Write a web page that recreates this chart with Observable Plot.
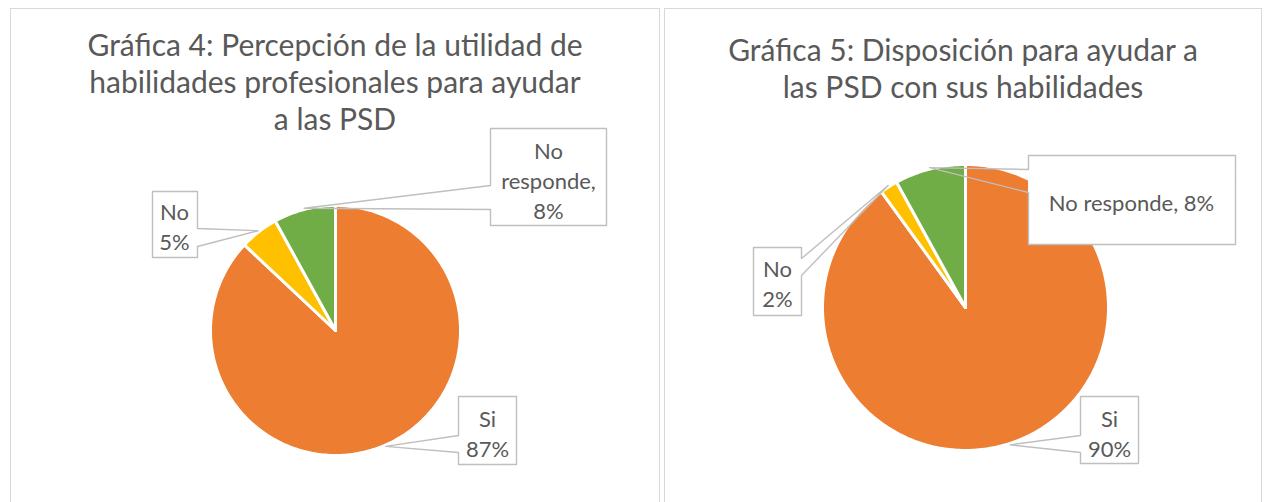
<!DOCTYPE html>
<html>
<head>
<meta charset="utf-8">
<script src="https://cdn.jsdelivr.net/npm/d3@7"></script>
<script src="https://cdn.jsdelivr.net/npm/@observablehq/plot@0.6"></script>
<style>
  body { margin: 0; background: #fff; }
  #root { position: relative; width: 1267px; height: 502px; overflow: hidden; background: #fff; }
  .panel { position: absolute; box-sizing: border-box; border: 1px solid #D9D9D9; background: #fff; }
  .title { position: absolute; left: 0; right: 0; text-align: center; color: #595959;
           font-family: Lato, "Open Sans", sans-serif; font-size: 30px; line-height: 37px; z-index: 2; }
  .panel svg { position: absolute; left: 0; top: 0; overflow: visible; }
</style>
</head>
<body>
<div id="root">
  <div class="panel" id="p1" style="left:10px; top:8px; width:650px; height:520px;"></div>
  <div class="panel" id="p2" style="left:664px; top:8px; width:598px; height:520px;"></div>
</div>
<script>
// ---------- data ----------
const categories = ["Si", "No", "No responde"];
const colors = ["#ED7D31", "#FFC000", "#70AD47"];
const values4 = [87, 5, 8];
const values5 = [90, 2, 8];
const title4 = ["Gráfica 4: Percepción de la utilidad de", "habilidades profesionales para ayudar", "a las PSD"];
const title5 = ["Gráfica 5: Disposición para ayudar a", "las PSD con sus habilidades"];
const catLines4 = [["Si"], ["No"], ["No", "responde,"]];
const catLines5 = [["Si"], ["No"], ["No responde,"]];

// ---------- layout (page pixels) ----------
const layout4 = {
  panel: "p1", origin: [11, 9], width: 648, height: 520, cx: 335, cy: 330, r: 125, titleTop: 17,
  boxes: [
    {x1: 458, x2: 516, y1: 396, y2: 464, side: "left", a: 435, b: 452, tx: 487, ty: 432},
    {x1: 152, x2: 197, y1: 191, y2: 257, side: "right", a: 228, b: 246, tx: 174, ty: 225},
    {x1: 490, x2: 606, y1: 128, y2: 225, side: "left", a: 185, b: 209, tx: 548, ty: 179}
  ]
};
const layout5 = {
  panel: "p2", origin: [665, 9], width: 596, height: 520, cx: 965, cy: 307, r: 143, titleTop: 22,
  boxes: [
    {x1: 1080, x2: 1138, y1: 396, y2: 463, side: "left", a: 435, b: 452, tx: 1109, ty: 432},
    {x1: 753, x2: 801, y1: 247, y2: 315, side: "right", a: 258, b: 275, tx: 777, ty: 282},
    {x1: 1028, x2: 1235, y1: 155, y2: 244, side: "left", a: 169, b: 192, tx: 1131, ty: 201}
  ]
};

function drawPie(values, titleLines, catLines, L) {
  const panel = document.getElementById(L.panel);
  const t = document.createElement("div");
  t.className = "title";
  t.style.top = L.titleTop + "px";
  t.innerHTML = titleLines.join("<br>");
  panel.appendChild(t);

  const dx = px => (px - L.cx) / L.r;
  const dy = py => (L.cy - py) / L.r;

  const arcs = d3.pie().sort(null)(values);
  const slices = arcs.map((a, i) => {
    const pts = [{x: 0, y: 0}];
    const n = Math.max(4, Math.ceil((a.endAngle - a.startAngle) / (Math.PI / 180)));
    for (let k = 0; k <= n; k++) {
      const ang = a.startAngle + (a.endAngle - a.startAngle) * k / n;
      pts.push({x: Math.sin(ang), y: Math.cos(ang)});
    }
    return {pts, color: colors[i], mid: (a.startAngle + a.endAngle) / 2};
  });

  const callouts = L.boxes.map((b, i) => {
    const mid = slices[i].mid;
    const tip = {x: Math.sin(mid) * 1.01, y: Math.cos(mid) * 1.01};
    let pts;
    if (b.side === "left") {
      pts = [[b.x1, b.a], [null, null], [b.x1, b.b], [b.x1, b.y2], [b.x2, b.y2], [b.x2, b.y1], [b.x1, b.y1], [b.x1, b.a]];
    } else {
      pts = [[b.x2, b.b], [null, null], [b.x2, b.a], [b.x2, b.y1], [b.x1, b.y1], [b.x1, b.y2], [b.x2, b.y2], [b.x2, b.b]];
    }
    const outline = pts.map(([px, py]) => px === null ? tip : {x: dx(px), y: dy(py)});
    const text = [...catLines[i]];
    if (text.length === 1 && text[0].endsWith(",")) text[0] = text[0] + " " + values[i] + "%";
    else text.push(values[i] + "%");
    return {
      outline,
      rect: {x1: dx(b.x1), x2: dx(b.x2), y1: dy(b.y1), y2: dy(b.y2)},
      label: {x: dx(b.tx), y: dy(b.ty), text: text.join("\n")}
    };
  });

  const ox = L.cx - L.origin[0], oy = L.cy - L.origin[1];
  const chart = Plot.plot({
    width: L.width, height: L.height,
    marginLeft: ox - L.r, marginRight: L.width - ox - L.r,
    marginTop: oy - L.r, marginBottom: L.height - oy - L.r,
    x: {domain: [-1, 1], axis: null},
    y: {domain: [-1, 1], axis: null},
    style: {background: "transparent", overflow: "visible"},
    marks: [
      ...slices.map(s => Plot.line(s.pts, {x: "x", y: "y", curve: "linear-closed", fill: s.color, stroke: "white", strokeWidth: 3, strokeLinejoin: "round"})),
      Plot.rect(callouts.map(c => c.rect), {x1: "x1", x2: "x2", y1: "y1", y2: "y2", fill: "white"}),
      ...callouts.map(c => Plot.line(c.outline, {x: "x", y: "y", stroke: "#BFBFBF", strokeWidth: 1.4, curve: "linear"})),
      Plot.text(callouts.map(c => c.label), {x: "x", y: "y", text: "text", fill: "#595959", fontSize: 22, lineHeight: 1.36, fontFamily: "Lato, 'Open Sans', sans-serif", textAnchor: "middle"})
    ]
  });
  panel.appendChild(chart);
}

drawPie(values4, title4, catLines4, layout4);
drawPie(values5, title5, catLines5, layout5);
</script>
</body>
</html>
